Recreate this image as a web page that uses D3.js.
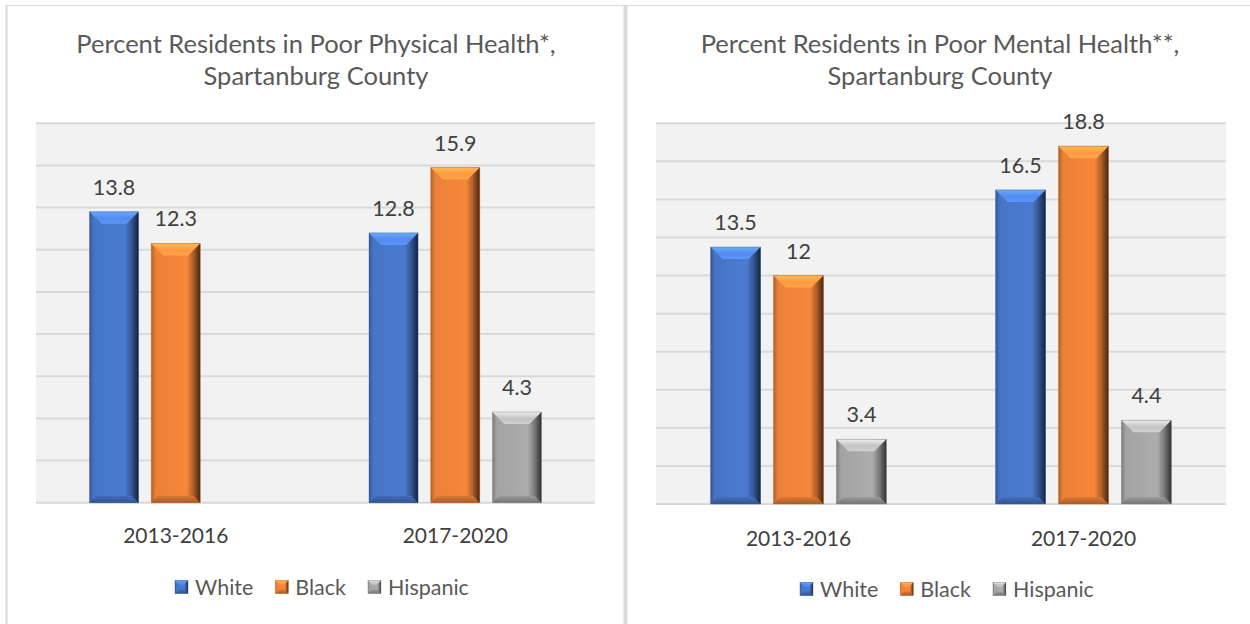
<!DOCTYPE html>
<html>
<head>
<meta charset="utf-8">
<script src="https://cdn.jsdelivr.net/npm/d3@7"></script>
<style>
  html, body { margin: 0; padding: 0; background: #fff; }
  svg { display: block; font-family: Lato, "Open Sans", sans-serif; }
</style>
</head>
<body>
<svg id="chart" width="1250" height="624"></svg>
<script>
// Survey periods and race/ethnicity groups
const periods = ["2013-2016", "2017-2020"];
const groups = ["White", "Black", "Hispanic"];

// Percent of residents reporting poor physical health (null = not reported)
const physicalWhite = [13.8, 12.8];
const physicalBlack = [12.3, 15.9];
const physicalHispanic = [null, 4.3];

// Percent of residents reporting poor mental health
const mentalWhite = [13.5, 16.5];
const mentalBlack = [12, 18.8];
const mentalHispanic = [3.4, 4.4];

const groupColors = ["#4a7bd1", "#f7873a", "#acacac"];

const svg = d3.select("#chart");
const defs = svg.append("defs");

// Shading gradients for the bevelled bars
groupColors.forEach((c, i) => {
  const base = d3.color(c);
  const side = defs.append("linearGradient").attr("id", "side" + i)
    .attr("x1", 0).attr("x2", 1).attr("y1", 0).attr("y2", 0);
  side.append("stop").attr("offset", "0%").attr("stop-color", "#000").attr("stop-opacity", 0.28);
  side.append("stop").attr("offset", "9%").attr("stop-color", "#000").attr("stop-opacity", 0.05);
  side.append("stop").attr("offset", "72%").attr("stop-color", "#000").attr("stop-opacity", 0.0);
  side.append("stop").attr("offset", "86%").attr("stop-color", "#000").attr("stop-opacity", 0.3);
  side.append("stop").attr("offset", "100%").attr("stop-color", "#000").attr("stop-opacity", 0.72);

  const top = defs.append("linearGradient").attr("id", "top" + i)
    .attr("x1", 0).attr("x2", 0).attr("y1", 0).attr("y2", 1);
  top.append("stop").attr("offset", "0%").attr("stop-color", base.brighter(0.9).formatHex());
  top.append("stop").attr("offset", "55%").attr("stop-color", base.brighter(0.35).formatHex());
  top.append("stop").attr("offset", "100%").attr("stop-color", base.brighter(0.55).formatHex());

  const bot = defs.append("linearGradient").attr("id", "bot" + i)
    .attr("x1", 0).attr("x2", 0).attr("y1", 0).attr("y2", 1);
  bot.append("stop").attr("offset", "0%").attr("stop-color", base.darker(0.3).formatHex());
  bot.append("stop").attr("offset", "100%").attr("stop-color", base.darker(1.1).formatHex());
});

// Draws one bevelled bar (or legend key) with its top-left corner at (x, y)
function bevelBar(g, x, y, w, h, i, bt, bb) {
  const c = groupColors[i];
  const b = g.append("g").attr("transform", `translate(${x},${y})`);
  b.append("rect").attr("width", w).attr("height", h).attr("fill", c);
  b.append("rect").attr("width", w).attr("height", h).attr("fill", `url(#side${i})`);
  b.append("polygon")
    .attr("points", [[0, 0], [w, 0], [w - bt, bt], [bt, bt]].join(" "))
    .attr("fill", `url(#top${i})`);
  b.append("polygon")
    .attr("points", [[0, h], [w, h], [w - bb, h - bb], [bb, h - bb]].join(" "))
    .attr("fill", `url(#bot${i})`);
  b.append("rect").attr("width", w).attr("height", h).attr("fill", "none")
    .attr("stroke", d3.color(c).darker(0.8).formatHex()).attr("stroke-opacity", 0.5).attr("stroke-width", 0.8);
}

// Panel frames
svg.append("line").attr("x1", 5).attr("x2", 1250).attr("y1", 5.5).attr("y2", 5.5)
  .attr("stroke", "#dcdcdc").attr("stroke-width", 1);
svg.append("line").attr("x1", 6.5).attr("x2", 6.5).attr("y1", 5).attr("y2", 624)
  .attr("stroke", "#d9d9d9").attr("stroke-width", 2);
svg.append("line").attr("x1", 625.5).attr("x2", 625.5).attr("y1", 5).attr("y2", 624)
  .attr("stroke", "#dadada").attr("stroke-width", 4);

const panels = [
  {
    title: ["Percent Residents in Poor Physical Health*,", "Spartanburg County"],
    series: [physicalWhite, physicalBlack, physicalHispanic],
    yMax: 18, left: 36, right: 595, bottom: 502.7, top: 123.3,
    titleX: 316, catY: 534, legendY: 587, legendX: 175
  },
  {
    title: ["Percent Residents in Poor Mental Health**,", "Spartanburg County"],
    series: [mentalWhite, mentalBlack, mentalHispanic],
    yMax: 20, left: 656, right: 1226, bottom: 504, top: 123.3,
    titleX: 940, catY: 537, legendY: 589, legendX: 800
  }
];

panels.forEach(p => {
  const g = svg.append("g");

  const x0 = d3.scaleBand().domain(periods).range([p.left, p.right]).padding(0);
  const x1 = d3.scaleBand().domain(groups).range([0, x0.bandwidth()])
    .paddingInner(0.206).paddingOuter(0.868);
  const y = d3.scaleLinear().domain([0, p.yMax]).range([p.bottom, p.top]);

  // Title
  g.append("text").attr("x", p.titleX).attr("y", 43).attr("text-anchor", "middle")
    .attr("dominant-baseline", "central").attr("fill", "#595959")
    .attr("font-size", 25.5).text(p.title[0]);
  g.append("text").attr("x", p.titleX).attr("y", 75).attr("text-anchor", "middle")
    .attr("dominant-baseline", "central").attr("fill", "#595959")
    .attr("font-size", 25.5).text(p.title[1]);

  // Plot area and gridlines
  g.append("rect").attr("x", p.left).attr("y", p.top).attr("width", p.right - p.left)
    .attr("height", p.bottom - p.top).attr("fill", "#f2f2f2");
  g.append("g").selectAll("line").data(y.ticks(p.yMax / 2)).join("line")
    .attr("x1", p.left).attr("x2", p.right)
    .attr("y1", d => y(d)).attr("y2", d => y(d))
    .attr("stroke", "#d9d9d9").attr("stroke-width", 2);

  // Bars and value labels
  groups.forEach((grp, i) => {
    periods.forEach((per, j) => {
      const v = p.series[i][j];
      if (v == null) return;
      const bx = x0(per) + x1(grp);
      const by = y(v);
      bevelBar(g, bx, by, x1.bandwidth(), y(0) - by, i, 12, 7);
      g.append("text").attr("x", bx + x1.bandwidth() / 2).attr("y", by - 25)
        .attr("text-anchor", "middle").attr("dominant-baseline", "central")
        .attr("fill", "#404040").attr("font-size", 21.5).text(String(v));
    });
  });

  // Category axis labels
  g.append("g").selectAll("text").data(periods).join("text")
    .attr("x", d => x0(d) + x0.bandwidth() / 2).attr("y", p.catY)
    .attr("text-anchor", "middle").attr("dominant-baseline", "central")
    .attr("fill", "#404040").attr("font-size", 21).text(d => d);

  // Legend
  let lx = p.legendX;
  groups.forEach((grp, i) => {
    bevelBar(g, lx, p.legendY - 6.5, 13, 13, i, 4, 4);
    const t = g.append("text").attr("x", lx + 20).attr("y", p.legendY)
      .attr("dominant-baseline", "central").attr("fill", "#595959")
      .attr("font-size", 21.5).text(grp);
    lx += 20 + t.node().getComputedTextLength() + 22;
  });
});
</script>
</body>
</html>
